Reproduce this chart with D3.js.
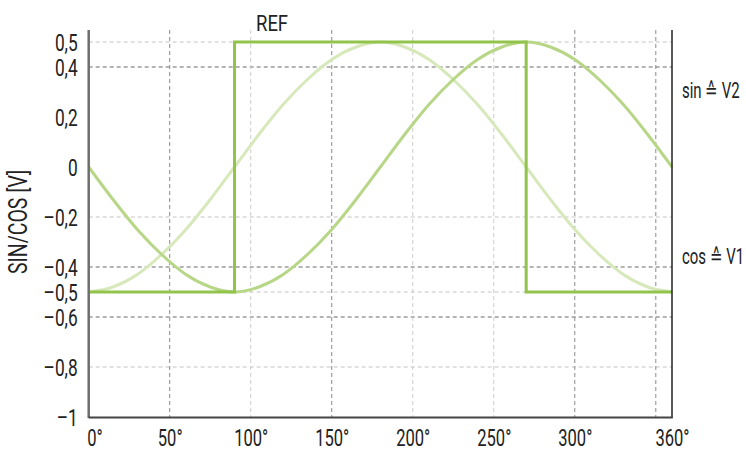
<!DOCTYPE html>
<html>
<head>
<meta charset="utf-8">
<script src="https://cdn.jsdelivr.net/npm/d3@7"></script>
<style>
  body { margin: 0; background: #fff; }
  text { font-family: Roboto, "Liberation Sans", sans-serif; fill: #222; }
</style>
</head>
<body>
<svg id="chart" width="746" height="453"></svg>
<script>
// angles, every 15 degrees
var angles = [0, 15, 30, 45, 60, 75, 90, 105, 120, 135, 150, 165, 180,
              195, 210, 225, 240, 255, 270, 285, 300, 315, 330, 345, 360];
// sin ~ V2 (medium green)
var sinValues = [0, -0.13, -0.25, -0.35, -0.43, -0.48, -0.5, -0.48, -0.43, -0.35, -0.25, -0.13, 0,
                 0.13, 0.25, 0.35, 0.43, 0.48, 0.5, 0.48, 0.43, 0.35, 0.25, 0.13, 0];
// cos ~ V1 (light green)
var cosValues = [-0.5, -0.48, -0.43, -0.35, -0.25, -0.13, 0, 0.13, 0.25, 0.35, 0.43, 0.48, 0.5,
                 0.48, 0.43, 0.35, 0.25, 0.13, 0, -0.13, -0.25, -0.35, -0.43, -0.48, -0.5];
// REF square wave
var refAngles = [0, 90, 90, 270, 270, 360];
var refValues = [-0.5, -0.5, 0.5, 0.5, -0.5, -0.5];

var yTicks = [0.5, 0.4, 0.2, 0, -0.2, -0.4, -0.5, -0.6, -0.8, -1];
var xTicks = [0, 50, 100, 150, 200, 250, 300, 360];
var xTickLabels = ['0°', '50°', '100°', '150°', '200°', '250°', '300°', '360°'];
var yGrid = [0.5, 0.4, -0.2, -0.4, -0.5, -0.6, -0.8];
var yGridDark = [0.4, -0.4, -0.6];
var xGrid = [50, 100, 150, 200, 250, 300, 350];
var xGridDark = [50, 150, 300, 350];

var plotLeft = 88.7, plotRight = 672, plotTop = 42, plotBottom = 417, lineTop = 30;
var squeeze = 0.72;

var svg = d3.select('#chart');

var x = d3.scaleLinear().domain([0, 360]).range([plotLeft, plotRight]);
var y = d3.scaleLinear().domain([-1, 0.5]).range([plotBottom, plotTop]);

function fmt(v) {
  if (v === 0) return '0';
  var s = String(Math.abs(v)).replace('.', ',');
  return (v < 0 ? '\u2013' : '') + s;
}

// narrow the glyphs, the chart uses a condensed face
function condense(sel, sx) {
  sel.each(function() {
    var t = d3.select(this);
    var xx = +t.attr('x') || 0;
    t.attr('x', xx / sx).attr('transform', 'scale(' + sx + ',1)');
  });
}

// grid
var grid = svg.append('g').attr('class', 'grid');
grid.selectAll('line.h').data(yGrid).enter()
  .append('line')
    .attr('class', 'h')
    .attr('x1', plotLeft).attr('x2', plotRight)
    .attr('y1', function(d) { return y(d); })
    .attr('y2', function(d) { return y(d); })
    .attr('stroke', function(d) { return yGridDark.indexOf(d) >= 0 ? '#6a6a6a' : '#c4c4c4'; })
    .attr('stroke-width', 1)
    .attr('stroke-dasharray', '4,3');

grid.selectAll('line.v').data(xGrid).enter()
  .append('line')
    .attr('class', 'v')
    .attr('x1', function(d) { return x(d); })
    .attr('x2', function(d) { return x(d); })
    .attr('y1', lineTop).attr('y2', plotBottom)
    .attr('stroke', function(d) { return xGridDark.indexOf(d) >= 0 ? '#8a8a8a' : '#cccccc'; })
    .attr('stroke-width', 1)
    .attr('stroke-dasharray', '4,3');

// curves
var line = d3.line()
  .x(function(d) { return x(d[0]); })
  .y(function(d) { return y(d[1]); })
  .curve(d3.curveMonotoneX);

svg.append('path')
  .datum(d3.zip(angles, cosValues))
  .attr('d', line)
  .attr('fill', 'none')
  .attr('stroke', '#d7e9bb')
  .attr('stroke-width', 3);

svg.append('path')
  .datum(d3.zip(angles, sinValues))
  .attr('d', line)
  .attr('fill', 'none')
  .attr('stroke', '#b7d787')
  .attr('stroke-width', 3);

var refLine = d3.line()
  .x(function(d) { return x(d[0]); })
  .y(function(d) { return y(d[1]); });

svg.append('path')
  .datum(d3.zip(refAngles, refValues))
  .attr('d', refLine)
  .attr('fill', 'none')
  .attr('stroke', '#92c34a')
  .attr('stroke-width', 3);

// axis lines
svg.append('line')
  .attr('x1', plotLeft).attr('x2', plotLeft)
  .attr('y1', lineTop).attr('y2', plotBottom + 1)
  .attr('stroke', '#6e6e6e').attr('stroke-width', 2.5);
svg.append('line')
  .attr('x1', plotRight).attr('x2', plotRight)
  .attr('y1', lineTop).attr('y2', plotBottom + 1)
  .attr('stroke', '#222').attr('stroke-width', 1.5);
svg.append('line')
  .attr('x1', plotLeft).attr('x2', plotRight + 0.7)
  .attr('y1', plotBottom + 0.5).attr('y2', plotBottom + 0.5)
  .attr('stroke', '#444').attr('stroke-width', 2);

// tick labels
var yAxis = d3.axisLeft(y)
  .tickValues(yTicks)
  .tickFormat(fmt)
  .tickSize(0)
  .tickPadding(11);

var yg = svg.append('g')
  .attr('transform', 'translate(' + plotLeft + ',0)')
  .call(yAxis);
yg.select('.domain').remove();
yg.selectAll('text')
  .attr('font-size', 24)
  .attr('fill', '#222')
  .attr('dy', '0.36em');
condense(yg.selectAll('text'), squeeze);

var xAxis = d3.axisBottom(x)
  .tickValues(xTicks)
  .tickFormat(function(d, i) { return xTickLabels[i]; })
  .tickSize(0)
  .tickPadding(13);

var xg = svg.append('g')
  .attr('transform', 'translate(0,' + plotBottom + ')')
  .call(xAxis);
xg.select('.domain').remove();
xg.selectAll('text')
  .attr('font-size', 23)
  .attr('fill', '#222')
  .attr('dy', '0.71em');
xg.selectAll('text').filter(function(d) { return d === 0; })
  .attr('text-anchor', 'start')
  .attr('x', -2);
condense(xg.selectAll('text'), squeeze);

// labels
svg.append('text')
  .attr('transform', 'translate(27,222) rotate(-90) scale(0.78,1)')
  .attr('text-anchor', 'middle')
  .attr('font-size', 25)
  .text('SIN/COS [V]');

var notes = [
  { text: 'REF', x: 256, y: 31, sx: 0.84 },
  { text: 'sin \u2259 V2', x: 682, y: 98, sx: 0.68 },
  { text: 'cos \u2259 V1', x: 682, y: 264, sx: 0.68 }
];
svg.selectAll('text.note').data(notes).enter()
  .append('text')
    .attr('class', 'note')
    .attr('transform', function(d) { return 'translate(' + d.x + ',' + d.y + ') scale(' + d.sx + ',1)'; })
    .attr('font-size', 22)
    .text(function(d) { return d.text; });
</script>
</body>
</html>
